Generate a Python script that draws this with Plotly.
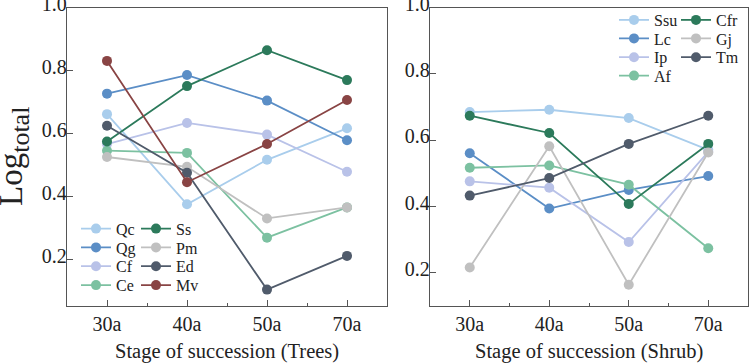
import plotly.graph_objects as go

stages = ['30a', '40a', '50a', '70a']

# Trees
tree_names = ['Qc', 'Qg', 'Cf', 'Ce', 'Ss', 'Pm', 'Ed', 'Mv']
Qc = [0.662, 0.376, 0.517, 0.617]
Qg = [0.727, 0.786, 0.705, 0.579]
Cf = [0.567, 0.634, 0.597, 0.479]
Ce = [0.546, 0.539, 0.270, 0.366]
Ss = [0.575, 0.751, 0.865, 0.770]
Pm = [0.526, 0.495, 0.331, 0.366]
Ed = [0.625, 0.476, 0.105, 0.212]
Mv = [0.831, 0.446, 0.567, 0.707]
tree_vals = [Qc, Qg, Cf, Ce, Ss, Pm, Ed, Mv]

# Shrubs
shrub_names = ['Ssu', 'Lc', 'Ip', 'Af', 'Cfr', 'Gj', 'Tm']
Ssu = [0.685, 0.692, 0.667, 0.571]
Lc = [0.561, 0.394, 0.450, 0.492]
Ip = [0.476, 0.457, 0.293, 0.565]
Af = [0.517, 0.524, 0.466, 0.274]
Cfr = [0.674, 0.622, 0.408, 0.589]
Gj = [0.216, 0.582, 0.164, 0.563]
Tm = [0.433, 0.486, 0.589, 0.674]
shrub_vals = [Ssu, Lc, Ip, Af, Cfr, Gj, Tm]

LIGHT = '#a9cdec'
MED = '#5b8ec6'
LAV = '#b9c2e8'
TEAL = '#7cc1a1'
DGREEN = '#2c7a5b'
GRAY = '#c0c0c0'
SLATE = '#505b6b'
BROWN = '#894444'

tree_colors = [LIGHT, MED, LAV, TEAL, DGREEN, GRAY, SLATE, BROWN]
shrub_colors = [LIGHT, MED, LAV, TEAL, DGREEN, GRAY, SLATE]

W, H = 751, 364
# legend entry positions (px): left x of entry, row centre y
tree_leg_x = [76, 76, 76, 76, 136, 136, 136, 136]
tree_leg_y = [228.7, 247.5, 266.3, 285.2, 228.7, 247.5, 266.3, 285.2]
shrub_leg_x = [614, 614, 614, 614, 676, 676, 676]
shrub_leg_y = [20, 38.5, 57.3, 75.7, 20, 38.5, 57.3]

xidx = list(range(len(stages)))
FONT = 'Liberation Serif'
LEGFONT = dict(family=FONT, size=16, color='#222222')

fig = go.Figure()
legends = {}
k = 0
for name, vals, col, lx, ly in zip(tree_names, tree_vals, tree_colors, tree_leg_x, tree_leg_y):
    k += 1
    lg = 'legend' if k == 1 else f'legend{k}'
    fig.add_trace(go.Scatter(x=xidx, y=vals, name=name, mode='lines+markers',
                             line=dict(color=col, width=1.8),
                             marker=dict(color=col, size=10),
                             xaxis='x', yaxis='y', legend=lg))
    legends[lg] = dict(x=lx / W, y=1 - (ly - 17) / H, xanchor='left', yanchor='top',
                       bgcolor='rgba(0,0,0,0)', font=LEGFONT)
for name, vals, col, lx, ly in zip(shrub_names, shrub_vals, shrub_colors, shrub_leg_x, shrub_leg_y):
    k += 1
    lg = f'legend{k}'
    fig.add_trace(go.Scatter(x=xidx, y=vals, name=name, mode='lines+markers',
                             line=dict(color=col, width=1.8),
                             marker=dict(color=col, size=10),
                             xaxis='x2', yaxis='y2', legend=lg))
    legends[lg] = dict(x=lx / W, y=1 - (ly - 17) / H, xanchor='left', yanchor='top',
                       bgcolor='rgba(0,0,0,0)', font=LEGFONT)

axcommon = dict(showline=True, mirror=True, linecolor='#555555', linewidth=1.3,
                showgrid=False, zeroline=False, ticks='inside', ticklen=6,
                tickcolor='#555555', tickwidth=1.3, ticklabeloverflow='allow',
                tickfont=dict(family=FONT, size=20, color='#222222'))

xcommon = dict(axcommon, range=[-0.5, 3.5], tickvals=xidx, ticktext=stages,
               minor=dict(tickvals=[0.5, 1.5, 2.5], ticks='inside', ticklen=3,
                          tickcolor='#555555', tickwidth=1.3))

ycommon = dict(axcommon, dtick=0.2, tick0=0, tickformat='.1f',
               ticklabelstandoff=-5, ticklabelshift=-4)

y0 = 1 - 306 / H
y1 = 1 - 7.5 / H

fig.update_layout(
    width=W, height=H,
    margin=dict(l=0, r=0, t=0, b=0, autoexpand=False),
    paper_bgcolor='white', plot_bgcolor='white',
    font=dict(family=FONT, color='#222222'),
    xaxis=dict(xcommon, domain=[67 / W, 387 / W], anchor='y'),
    yaxis=dict(ycommon, domain=[y0, y1], range=[0.053, 1.0005], anchor='x'),
    xaxis2=dict(xcommon, domain=[430 / W, 748 / W], anchor='y2'),
    yaxis2=dict(ycommon, domain=[y0, y1], range=[0.1, 1.0005], anchor='x2'),
    showlegend=True,
    annotations=[
        dict(text='Log<sub><span style="font-size:26px">total</span></sub>',
             x=14 / W, y=1 - 157 / H,
             xref='paper', yref='paper', xanchor='center', yanchor='middle',
             textangle=-90, showarrow=False,
             font=dict(family=FONT, size=33, color='#222222')),
        dict(text='Stage of succession (Trees)', x=227 / W, y=1 - 351 / H,
             xref='paper', yref='paper', xanchor='center', yanchor='middle',
             showarrow=False, font=dict(family=FONT, size=20.5, color='#222222')),
        dict(text='Stage of succession (Shrub)', x=589 / W, y=1 - 351 / H,
             xref='paper', yref='paper', xanchor='center', yanchor='middle',
             showarrow=False, font=dict(family=FONT, size=20.5, color='#222222')),
    ],
)
fig.update_layout(**legends)

fig.write_html('out.html', config={'displayModeBar': False},
               post_script="document.body.style.margin='0';document.body.style.overflow='hidden';")
